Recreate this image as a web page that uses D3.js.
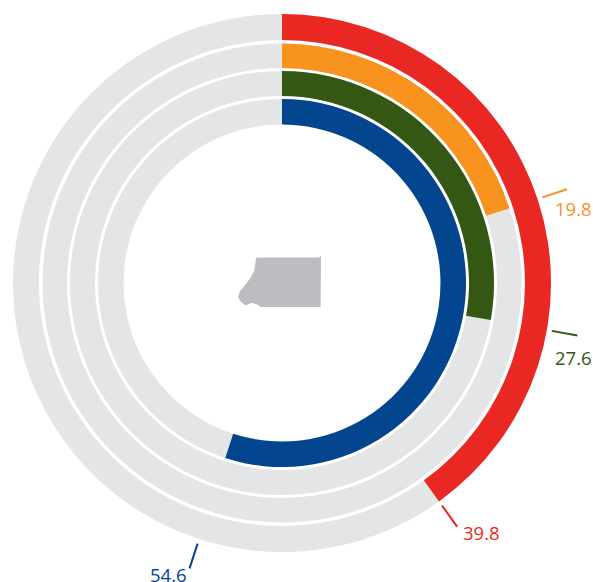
<!DOCTYPE html>
<html><head><meta charset="utf-8">
<script src="https://cdn.jsdelivr.net/npm/d3@7"></script>
<style>html,body{margin:0;padding:0;background:#fff}svg{display:block}</style></head>
<body><div id="c"></div>
<script>
const labels = ["39.8","19.8","27.6","54.6"];
const values = [39.8,19.8,27.6,54.6];
const colors = ["#e92823","#f7931e","#355714","#03458f"];
const trackColor = "#e4e5e7";
const W=593,H=582,cx=282,cy=283;
const ringBands = [[243,269],[215,239.5],[187,212],[158.5,184]];
const labelPos = [[463,540],[555,216],[555,365],[150,581.5]];
const svg=d3.select("#c").append("svg").attr("width",W).attr("height",H);
const g=svg.append("g").attr("transform",`translate(${cx},${cy})`);
const angle=d3.scaleLinear().domain([0,99.3]).range([0,2*Math.PI]);
const arc=d3.arc();
values.forEach((v,i)=>{
  const [r0,r1]=ringBands[i];
  g.append("path").attr("d",arc({innerRadius:r0,outerRadius:r1,startAngle:0,endAngle:2*Math.PI})).attr("fill",trackColor);
  g.append("path").attr("d",arc({innerRadius:r0,outerRadius:r1,startAngle:0,endAngle:angle(v)})).attr("fill",colors[i]);
  const a=angle(v), s=Math.sin(a), c=-Math.cos(a);
  g.append("line").attr("x1",s*274).attr("y1",c*274).attr("x2",s*300).attr("y2",c*300)
    .attr("stroke",colors[i]).attr("stroke-width",2);
  svg.append("text").attr("x",labelPos[i][0]).attr("y",labelPos[i][1]).text(labels[i])
    .attr("fill",colors[i]).attr("font-family","'Open Sans'").attr("font-size",18.5);
});
const blob=[[256,258],[258,257.5],[319,257.5],[321,255.5],[320.6,307],[261,307],[257,304.5],[253,303],[250,303.5],[246,305.5],[241,302],[238,297],[240,291],[246,284],[251,277],[254.5,270],[255.5,262]];
svg.append("path").attr("d",d3.line().curve(d3.curveLinearClosed)(blob)).attr("fill","#bcbdc1");
</script></body></html>
